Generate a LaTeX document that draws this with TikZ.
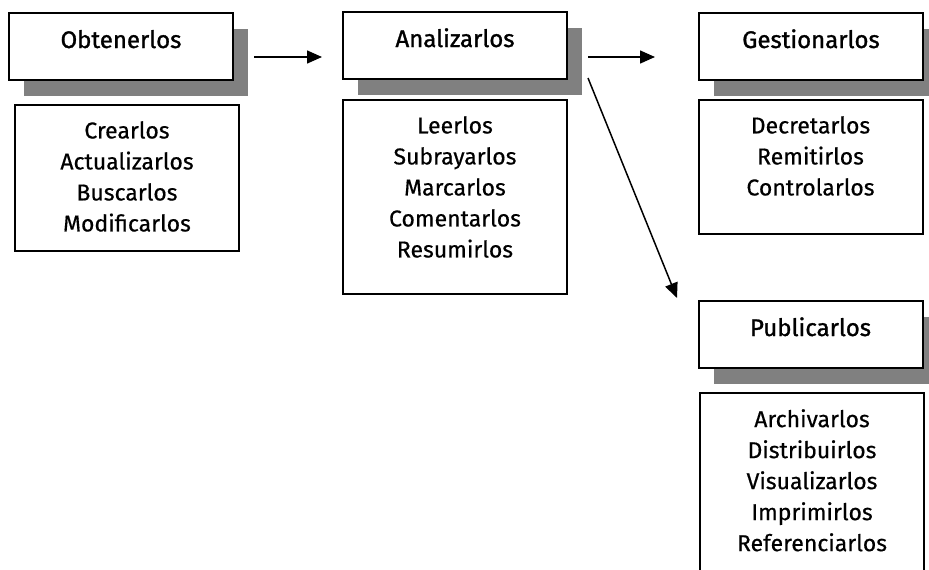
\documentclass[tikz,border=0pt]{standalone}
\usepackage{fontspec}
\setmainfont{Fira Sans}[FakeBold=0.5]
\newfontfamily\titlefont{Fira Sans}[FakeBold=1.2]
\usetikzlibrary{arrows.meta,shadows,calc}
\tikzset{
  titlebox/.style={draw, line width=2pt, fill=white, minimum width=224pt,
    inner xsep=0pt, inner ysep=0pt, text height=35pt, text depth=32pt, anchor=north,
    font=\titlefont\fontsize{24}{29}\selectfont,
    drop shadow={shadow xshift=15pt, shadow yshift=-16pt, fill=black!50, opacity=1}},
  bodybox/.style={draw, line width=2pt, fill=white, minimum width=224pt, inner sep=0pt, anchor=north},
  bodytext/.style={anchor=north, align=center, inner sep=0pt, font=\fontsize{23}{31}\selectfont},
  arr/.style={line width=1.5pt, -{Triangle[length=15pt,width=13pt]}}
}
\begin{document}
\begin{tikzpicture}[x=1pt,y=-1pt]
\clip (0,0) rectangle (929,570);
\useasboundingbox (0,0) rectangle (929,570);
% title boxes
\node[titlebox] (obt) at (121,12) {Obtenerlos};
\node[titlebox] (ana) at (455,11) {Analizarlos};
\node[titlebox] (ges) at (811,12) {Gestionarlos};
\node[titlebox] (pub) at (810.5,300) {Publicarlos};
% body boxes
\node[bodybox, minimum height=146pt] (obtb) at (127,104) {};
\node[bodybox, minimum height=194pt] (anab) at (455,99) {};
\node[bodybox, minimum height=134pt] (gesb) at (810.5,99) {};
\node[bodybox, minimum height=190pt] (pubb) at (812,392) {};
% body texts
\node[bodytext] (obtt) at ($(obtb.north)+(0,17)$) {Crearlos\\Actualizarlos\\Buscarlos\\Modificarlos};
\node[bodytext] (anat) at ($(anab.north)+(0,17)$) {Leerlos\\Subrayarlos\\Marcarlos\\Comentarlos\\Resumirlos};
\node[bodytext] (gest) at ($(gesb.north)+(0,17)$) {Decretarlos\\Remitirlos\\Controlarlos};
\node[bodytext] (pubt) at ($(pubb.north)+(0,17)$) {Archivarlos\\Distribuirlos\\Visualizarlos\\Imprimirlos\\Referenciarlos};
% arrows
\coordinate (a1s) at (254,57);
\coordinate (a1e) at (322,57);
\coordinate (a2s) at (588,57);
\coordinate (a2e) at (655,57);
\coordinate (a3s) at (588,78);
\coordinate (a3e) at (677,298);
\draw[arr] (a1s) -- (a1e);
\draw[arr] (a2s) -- (a2e);
\draw[arr] (a3s) -- (a3e);
\end{tikzpicture}
\end{document}
